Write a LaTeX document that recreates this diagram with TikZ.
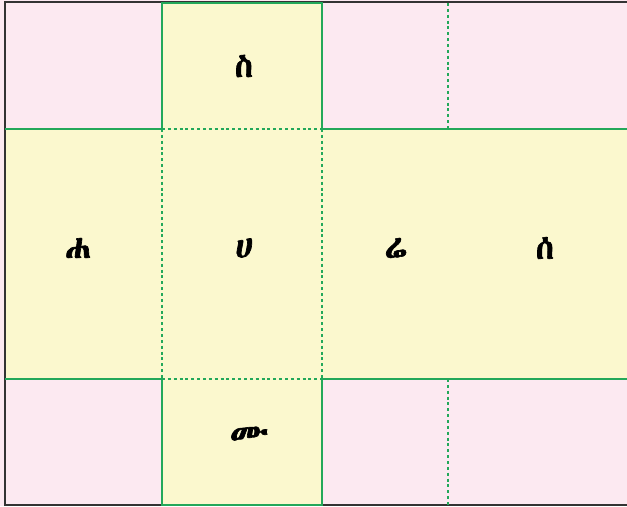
\documentclass[tikz,border=0pt]{standalone}
\usepackage{fontspec}
\usepackage{xcolor}
\usetikzlibrary{positioning}
\IfFontExistsTF{Abyssinica SIL}
  {\newfontfamily\ethfont[FakeBold=2]{Abyssinica SIL}}
  {\IfFontExistsTF{FreeSerif}
    {\newfontfamily\ethfont[FakeBold=2]{FreeSerif}}
    {\newfontfamily\ethfont{DejaVu Sans}}}
\definecolor{netpink}{HTML}{FCE9F1}
\definecolor{netyellow}{HTML}{FBF8CE}
\definecolor{netgreen}{HTML}{23A85A}
\definecolor{frame}{HTML}{333333}

\begin{document}
\begin{tikzpicture}[
    x=0.03cm, y=-0.03cm,
    cut/.style={draw=netgreen, line width=1.2pt},
    fold/.style={draw=netgreen, line width=1.1pt, dash pattern=on 2.5pt off 2.5pt},
    letter/.style={font=\ethfont\fontsize{28}{28}\selectfont, inner sep=0pt}
]
    \fill[netpink] (0,0) rectangle (627,506);
    \useasboundingbox (0,0) rectangle (627,506);

    % the net
    \fill[netyellow] (162,3) rectangle (322,505);
    \fill[netyellow] (5,129) rectangle (627,379);

    \draw[frame, line width=1.4pt] (627,2) -- (5,2) -- (5,505) -- (627,505);

    \draw[fold] (162,129) -- (322,129);
    \draw[fold] (162,379) -- (322,379);
    \draw[fold] (162,129) -- (162,379);
    \draw[fold] (322,129) -- (322,379);
    \draw[fold] (448,3) -- (448,129);
    \draw[fold] (448,379) -- (448,505);

    \draw[cut] (5,129) -- (162,129) -- (162,3) -- (322,3) -- (322,129) -- (627,129);
    \draw[cut] (5,379) -- (162,379) -- (162,505) -- (322,505) -- (322,379) -- (627,379);

    \node[letter] (top) at (244,66) {ስ};
    \node[letter] (left) at (78,248) {ሐ};
    \node[letter] (front) at (244,248) {ሀ};
    \node[letter] (right) at (396,248) {ሬ};
    \node[letter] (back) at (545,248) {ሰ};
    \node[letter] (bottom) at (249,436) {ሙ};
\end{tikzpicture}
\end{document}
